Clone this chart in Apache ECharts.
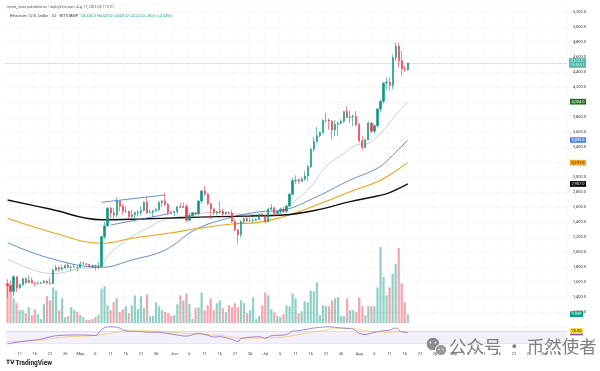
<!DOCTYPE html>
<html><head><meta charset="utf-8">
<script src="https://cdn.jsdelivr.net/npm/echarts@6/dist/echarts.min.js"></script>
<style>html,body{margin:0;padding:0;background:#fff}#c{width:600px;height:371px}</style>
</head><body><div id="c"></div>
<script>
// ---------- categories (daily, Apr 7 2025 .. plus right-side empty space) ----------
const startYear = 2025, startMonthIdx = 3, startDay = 7, dayCount = 185;
const categories = [];
for (let i = 0; i < dayCount; i++) {
  categories.push(new Date(Date.UTC(startYear, startMonthIdx, startDay + i)).toISOString().slice(0, 10));
}
const monthNames = ['Jan','Feb','Mar','Apr','May','Jun','Jul','Aug','Sep','Oct','Nov','Dec'];
const tickDays = [1, 6, 11, 16, 21, 26];

// ---------- ETH/USD daily candles (Apr 7 .. Aug 17) ----------
const opens = [
1578,1553,1472,1670,1522,1566,1645,1595,1623,1588,
1578,1583,1589,1614,1587,1578,1757,1794,1770,1787,
1820,1792,1798,1800,
1793,1840,1843,1833,1808,1817,1810,1810,2205,2347,
2583,2517,2494,2680,2610,2545,2545,2474,2496,2523,
2527,2552,2663,2525,2530,2547,2565,2660,2680,2634,2530,
2528,2540,2604,2595,2607,2423,2484,2523,2510,2680,
2815,2772,2644,2577,2524,2534,2547,2508,2525,2520,
2407,2295,2230,2410,2444,2418,2418,2423,2435,2502,
2486,2406,2571,2590,2517,2540,2570,2543,2614,2770,
2952,2960,2943,2973,3013,3138,3370,3475,3550,3593,
3756,3760,3745,3627,3703,3717,3744,3875,3795,3804,3811,
3697,3485,3394,3497,3720,3611,3683,3906,4010,4253,
4265,4220,4590,4745,4553,4440,4430];
const closes = [
1553,1472,1670,1522,1566,1645,1595,1623,1588,1578,
1583,1589,1614,1587,1578,1757,1794,1770,1787,1820,
1792,1798,1800,1793,
1840,1843,1833,1808,1817,1810,1810,2205,2347,2583,
2517,2494,2680,2610,2545,2545,2474,2496,2523,2527,
2552,2663,2525,2530,2547,2565,2660,2680,2634,2530,2528,
2540,2604,2595,2607,2423,2484,2523,2510,2680,2815,
2772,2644,2577,2524,2534,2547,2508,2525,2520,2407,
2295,2230,2410,2444,2418,2418,2423,2435,2502,2486,
2406,2571,2590,2517,2540,2570,2543,2614,2770,2952,
2960,2943,2973,3013,3138,3370,3475,3550,3593,3756,
3760,3745,3627,3703,3717,3744,3875,3795,3804,3811,3697,
3485,3394,3497,3720,3611,3683,3906,4010,4253,4265,
4220,4590,4745,4553,4440,4430,4520];
const lows = [
1385,1440,1410,1470,1505,1545,1570,1590,1580,1540,
1565,1575,1585,1570,1565,1570,1745,1735,1750,1780,
1780,1740,1785,1745,
1790,1830,1825,1795,1785,1755,1775,1800,2170,2340,
2450,2430,2460,2540,2500,2520,2440,2450,2400,2475,
2490,2540,2510,2515,2460,2540,2540,2600,2610,2500,2500,
2480,2500,2590,2590,2400,2410,2470,2490,2490,2650,
2745,2620,2440,2490,2490,2510,2460,2490,2500,2390,
2280,2111,2200,2380,2400,2400,2390,2410,2420,2470,
2380,2390,2560,2480,2510,2510,2520,2520,2600,2760,
2910,2910,2930,2950,2950,3120,3330,3460,3530,3580,
3720,3630,3500,3550,3550,3700,3720,3780,3720,3680,3670,
3460,3360,3380,3490,3580,3580,3660,3860,3980,4160,
4150,4170,4550,4460,4350,4400,4420];
const highs = [
1640,1620,1690,1675,1580,1660,1665,1690,1660,1595,
1610,1600,1630,1615,1660,1785,1830,1805,1830,1830,
1860,1825,1840,1815,
1875,1870,1850,1845,1830,1830,1865,2210,2400,2600,
2600,2590,2730,2680,2640,2610,2550,2560,2545,2560,
2610,2680,2735,2570,2560,2590,2680,2690,2790,2660,2550,
2545,2610,2655,2660,2640,2530,2535,2530,2690,2825,
2880,2790,2650,2580,2550,2680,2580,2540,2540,2560,
2440,2310,2420,2480,2470,2460,2460,2450,2510,2520,
2500,2590,2640,2600,2550,2590,2600,2630,2790,2990,
3020,2980,3000,3080,3160,3390,3530,3670,3610,3770,
3860,3780,3760,3760,3740,3770,3880,3940,3880,3830,3880,
3720,3550,3510,3740,3730,3700,3920,4030,4260,4330,
4330,4630,4790,4790,4680,4480,4525];
// volume (thousand ETH)
const volumes = [
40,30,25,20,13,13,10,16,8,14,9,4,19,27,23,36,33,13,25,6,
7,16,13,11,8,6,3,3,4,6,8,35,37,18,13,21,25,11,14,17,
10,18,28,14,27,15,29,
7,7,21,17,13,11,10,7,8,19,28,23,30,19,4,15,16,31,13,18,
25,13,20,23,15,11,18,16,20,16,23,20,10,13,26,4,7,18,31,28,
14,11,7,
6,9,18,17,30,25,10,12,22,21,33,32,41,8,18,17,17,23,25,26,
7,7,25,13,13,11,26,17,8,17,17,17,36,77,47,28,36,50,60,76,
40,21,9];

// ---------- moving averages ----------
const maFast = [['2025-04-07',1907],['2025-04-22',1710],['2025-05-01',1780],['2025-05-07',1800],['2025-05-11',1990],
['2025-05-18',2204],['2025-05-24',2338],['2025-05-28',2427],['2025-06-03',2471],['2025-06-15',2530],['2025-06-26',2500],
['2025-07-05',2510],['2025-07-10',2653],['2025-07-16',2871],['2025-07-21',3138],['2025-07-27',3320],['2025-07-31',3427],
['2025-08-04',3449],['2025-08-09',3627],['2025-08-13',3827],['2025-08-17',4004]];
const maBlue = [['2025-04-07',2124],['2025-04-21',1916],['2025-05-08',1796],['2025-05-18',1893],['2025-05-29',2027],
['2025-06-08',2300],['2025-06-20',2465],['2025-06-29',2535],['2025-07-07',2560],['2025-07-18',2738],['2025-07-29',2960],
['2025-08-07',3116],['2025-08-11',3249],['2025-08-17',3493]];
const maOrange = [['2025-04-07',2449],['2025-04-21',2271],['2025-05-08',2116],['2025-05-18',2183],['2025-05-30',2249],
['2025-06-09',2316],['2025-06-20',2373],['2025-06-29',2395],['2025-07-07',2471],['2025-07-12',2538],['2025-07-18',2627],
['2025-07-29',2804],['2025-08-07',2938],['2025-08-11',3027],['2025-08-17',3191]];
const maBlack = [['2025-04-07',2693],['2025-04-21',2573],['2025-05-08',2430],['2025-05-21',2440],['2025-06-03',2457],
['2025-06-16',2471],['2025-06-26',2480],['2025-07-07',2493],['2025-07-18',2560],['2025-07-29',2671],['2025-08-07',2747],
['2025-08-11',2791],['2025-08-17',2907]];
// parallel channel drawn on the chart
const channelUpper = [['2025-05-08',2663],['2025-05-29',2760]];
const channelLower = [['2025-05-11',2360],['2025-05-31',2516]];

// ---------- RSI pane ----------
const rsi = [['2025-04-07',27],['2025-04-11',34],['2025-04-18',43],['2025-04-22',53],['2025-04-26',56],['2025-05-01',57],
['2025-05-06',55],['2025-05-08',75],['2025-05-10',84],['2025-05-13',83],['2025-05-16',70],['2025-05-21',68],['2025-05-23',66],
['2025-05-26',66],['2025-05-31',60],['2025-06-05',53],['2025-06-09',62],['2025-06-12',56],['2025-06-14',50],['2025-06-16',51],
['2025-06-20',42],['2025-06-22',35],['2025-06-23',45],['2025-06-29',51],['2025-07-01',46],['2025-07-03',54],['2025-07-08',58],
['2025-07-10',70],['2025-07-12',71],['2025-07-17',80],['2025-07-22',84],['2025-07-26',80],['2025-07-30',76],['2025-08-01',62],
['2025-08-03',58],['2025-08-05',63],['2025-08-08',70],['2025-08-11',73],['2025-08-13',80],['2025-08-15',67],['2025-08-17',65]];
const rsiMa = [['2025-04-07',35],['2025-04-16',38],['2025-04-26',50],['2025-05-06',55],['2025-05-11',62],['2025-05-18',73],
['2025-05-26',70],['2025-06-05',62],['2025-06-15',56],['2025-06-25',46],['2025-07-05',48],['2025-07-12',58],['2025-07-20',72],
['2025-07-28',80],['2025-08-04',70],['2025-08-10',66],['2025-08-17',70]];
const rsiLevels = [70, 30];

// ---------- price-axis ticks ----------
const priceMin = 1000, priceMax = 5300, priceStep = 200;

// ---------- build ----------
const UP = '#089981', DOWN = '#f23645';
const n = closes.length;
const candleData = closes.map((c, i) => [opens[i], c, lows[i], highs[i]]);
const volData = volumes.map((v, i) => ({ value: v, itemStyle: { color: closes[i] >= opens[i] ? 'rgba(8,153,129,0.45)' : 'rgba(242,54,69,0.45)' } }));
const fmt1 = v => Number(v).toLocaleString('en-US', { minimumFractionDigits: 1, maximumFractionDigits: 1 });
const dayOf = v => +String(v).slice(8, 10);
const tickShow = (idx, v) => tickDays.includes(dayOf(v));
const last = a => a[a.length - 1][1];

function tag(value, bg, fg, text) {
  return {
    yAxis: value,
    lineStyle: { color: 'rgba(0,0,0,0)', width: 0.1 },
    label: { show: true, position: 'end', distance: 3, formatter: text || fmt1(value), backgroundColor: bg, color: fg,
      fontSize: 4, fontFamily: 'Roboto', padding: [0.6, 1.5], lineHeight: 4.5, opacity: 1 }
  };
}
const maLine = (name, data, color, width, tagBg, tagFg) => ({
  name, type: 'line', xAxisIndex: 0, yAxisIndex: 0, data, smooth: 0.4, symbol: 'none', z: 3,
  lineStyle: { color, width }, silent: true,
  markLine: { symbol: 'none', silent: true, animation: false, data: [tag(last(data), tagBg, tagFg)] }
});

const chart = echarts.init(document.getElementById('c'), null, { renderer: 'canvas' });
const lastClose = closes[n - 1], lastOpen = opens[n - 1];
const chg = lastClose - closes[n - 2];
chart.setOption({
  animation: false,
  backgroundColor: '#ffffff',
  textStyle: { fontFamily: 'Roboto' },
  grid: [
    { left: 6, right: 33, top: 4.5, height: 322.5 },
    { left: 6, right: 33, top: 246, height: 77 },
    { left: 6, right: 33, top: 325, height: 24 }
  ],
  xAxis: [
    { type: 'category', gridIndex: 0, data: categories, boundaryGap: true,
      axisLine: { show: false }, axisTick: { show: false }, axisLabel: { show: false },
      splitLine: { show: true, interval: tickShow, lineStyle: { color: '#f4f4f6', width: 0.6 } } },
    { type: 'category', gridIndex: 1, data: categories, boundaryGap: true, show: false },
    { type: 'category', gridIndex: 2, data: categories, boundaryGap: true,
      axisLine: { show: false }, axisTick: { show: false },
      axisLabel: { interval: tickShow, fontSize: 4, color: '#333', margin: 2.5,
        formatter: v => dayOf(v) === 1 ? monthNames[+v.slice(5, 7) - 1] : String(dayOf(v)) },
      splitLine: { show: false } }
  ],
  yAxis: [
    { type: 'value', gridIndex: 0, position: 'right', min: priceMin, max: priceMax, interval: priceStep,
      axisLine: { show: false }, axisTick: { show: false },
      axisLabel: { fontSize: 4, color: '#333', margin: 6, showMinLabel: false, showMaxLabel: false, formatter: fmt1 },
      splitLine: { show: true, lineStyle: { color: '#f3f3f5', width: 0.6 } } },
    { type: 'value', gridIndex: 1, min: 0, max: 78, show: false },
    { type: 'value', gridIndex: 2, min: 10, max: 90, show: false }
  ],
  series: [
    { name: 'Volume', type: 'bar', xAxisIndex: 1, yAxisIndex: 1, data: volData, barWidth: 2.2, z: 1, silent: true,
      markLine: { symbol: 'none', silent: true, data: [tag(volumes[n - 1], UP, '#fff', volumes[n - 1].toFixed(2) + 'K')] } },
    maLine('MA fast', maFast, 'rgba(120,150,120,0.6)', 0.7, '#1b6e1b', '#fff'),
    maLine('MA blue', maBlue, '#4f7fd6', 0.9, '#4f86e8', '#fff'),
    maLine('MA orange', maOrange, '#f0a11a', 1.1, '#f5a623', '#222'),
    maLine('MA black', maBlack, '#111111', 1.4, '#000000', '#fff'),
    { name: 'Channel top', type: 'line', xAxisIndex: 0, yAxisIndex: 0, data: channelUpper, symbol: 'none', z: 4, silent: true,
      lineStyle: { color: '#4a6fd8', width: 0.8 } },
    { name: 'Channel bottom', type: 'line', xAxisIndex: 0, yAxisIndex: 0, data: channelLower, symbol: 'none', z: 4, silent: true,
      lineStyle: { color: '#4a6fd8', width: 0.8 } },
    { name: 'ETHUSD', type: 'candlestick', xAxisIndex: 0, yAxisIndex: 0, data: candleData, barWidth: 1.7, z: 5, silent: true,
      itemStyle: { color: UP, color0: DOWN, borderColor: UP, borderColor0: DOWN, borderWidth: 0.6 },
      markLine: { symbol: 'none', silent: true, data: [{
        yAxis: lastClose, lineStyle: { color: UP, type: 'dotted', width: 0.6, opacity: 0.7 },
        label: { show: true, position: 'end', distance: 2, formatter: '{v|' + fmt1(lastClose) + '}\n{t|18:48:51}',
          backgroundColor: UP, padding: [0.6, 1.5],
          rich: { v: { fontSize: 4, color: '#fff', lineHeight: 4.4 }, t: { fontSize: 3.6, color: '#e6fff8', lineHeight: 4 } } }
      }] } },
    { name: 'RSI', type: 'line', xAxisIndex: 2, yAxisIndex: 2, data: rsi, smooth: 0.3, symbol: 'none', z: 3, silent: true,
      lineStyle: { color: '#7e57c2', width: 0.7 },
      markArea: { silent: true, itemStyle: { color: 'rgba(126,87,194,0.09)' }, data: [[{ yAxis: rsiLevels[1] }, { yAxis: rsiLevels[0] }]] },
      markLine: { symbol: 'none', silent: true, data: [
        { yAxis: rsiLevels[0], lineStyle: { color: '#a0a0a8', type: 'dotted', width: 0.5 }, label: { show: false } },
        { yAxis: rsiLevels[1], lineStyle: { color: '#a0a0a8', type: 'dotted', width: 0.5 }, label: { show: false } },
        tag(last(rsi), '#7e57c2', '#fff', last(rsi).toFixed(2))
      ] } },
    { name: 'RSI MA', type: 'line', xAxisIndex: 2, yAxisIndex: 2, data: rsiMa, smooth: 0.4, symbol: 'none', z: 2, silent: true,
      lineStyle: { color: '#e6c84a', width: 0.6 },
      markLine: { symbol: 'none', silent: true, data: [tag(last(rsiMa), '#f5d63d', '#222', last(rsiMa).toFixed(2))] } }
  ],
  graphic: [
    { type: 'text', left: 7, top: 5.2, silent: true,
      style: { text: 'invest_news published on TradingView.com, Aug 17, 2025 05:11 UTC', fontSize: 3.5, fill: '#555', fontFamily: 'Roboto' } },
    { type: 'text', left: 10, top: 13.8, silent: true,
      style: { text: '{a|Ethereum / U.S. Dollar · 1D · BITSTAMP  }{b|O' + fmt1(lastOpen) + ' H' + fmt1(highs[n - 1]) + ' L' + fmt1(lows[n - 1]) +
        ' C' + fmt1(lastClose) + ' +' + fmt1(chg) + ' (+' + (chg / closes[n - 2] * 100).toFixed(2) + '%)}',
        rich: { a: { fontSize: 3.8, fill: '#333' }, b: { fontSize: 3.8, fill: UP } }, fontFamily: 'Roboto' } },
    { type: 'text', left: 6, top: 359.5, silent: true,
      style: { text: 'TV', fontSize: 6, fontWeight: 'bold', fill: '#131722', fontFamily: 'DejaVu Sans' } },
    { type: 'text', left: 15.5, top: 359.5, silent: true,
      style: { text: 'TradingView', fontSize: 6.5, fontWeight: 'bold', fill: '#131722', fontFamily: 'Roboto' } },
    // watermark
    { type: 'circle', shape: { cx: 433, cy: 344, r: 6.8 }, silent: true, style: { fill: '#8c8c8c', stroke: '#fff', lineWidth: 1 } },
    { type: 'circle', shape: { cx: 441, cy: 350, r: 5.6 }, silent: true, style: { fill: '#9a9a9a', stroke: '#fff', lineWidth: 1 } },
    { type: 'circle', shape: { cx: 430.5, cy: 342.5, r: 0.9 }, silent: true, style: { fill: '#fff' } },
    { type: 'circle', shape: { cx: 435.5, cy: 342.5, r: 0.9 }, silent: true, style: { fill: '#fff' } },
    { type: 'circle', shape: { cx: 439, cy: 349.5, r: 0.7 }, silent: true, style: { fill: '#fff' } },
    { type: 'circle', shape: { cx: 443, cy: 349.5, r: 0.7 }, silent: true, style: { fill: '#fff' } },
    { type: 'text', left: 448, top: 337, silent: true,
      style: { text: '公众号 · 币然使者', fontSize: 17.5, fill: 'rgba(105,105,105,0.85)', stroke: '#ffffff', lineWidth: 2,
        fontFamily: 'Noto Sans CJK SC' } }
  ]
});
</script>
</body></html>
